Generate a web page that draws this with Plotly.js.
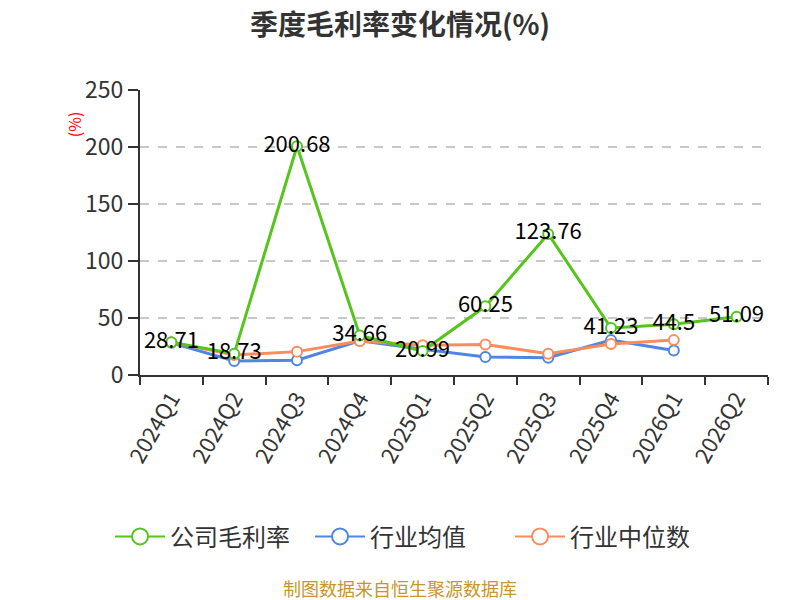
<!DOCTYPE html>
<html>
<head>
<meta charset="utf-8">
<script src="https://cdn.plot.ly/plotly-3.0.1.min.js"></script>
<style>
  body { margin: 0; background: #fff; }
  #chart { width: 800px; height: 600px; }
</style>
</head>
<body>
<div id="chart"></div>
<script>
// 季度毛利率
var quarters = ['2024Q1', '2024Q2', '2024Q3', '2024Q4', '2025Q1', '2025Q2', '2025Q3', '2025Q4', '2026Q1', '2026Q2'];
var companyValues = [28.71, 18.73, 200.68, 34.66, 20.99, 60.25, 123.76, 41.23, 44.5, 51.09];
var industryMean = [28.2, 12.3, 13.0, 30.0, 22.5, 15.8, 15.2, 30.6, 21.4, null];
var industryMedian = [28.6, 17.5, 20.5, 29.8, 26.0, 26.8, 18.6, 27.2, 30.6, null];
var seriesNames = ['公司毛利率', '行业均值', '行业中位数'];
var seriesColors = ['#55c51d', '#4f86e4', '#fc8c5c'];

var font = '"Noto Sans CJK SC", "Noto Sans", sans-serif';

function lineTrace(name, y, color, withText) {
  var t = {
    x: quarters,
    y: y,
    name: name,
    type: 'scatter',
    mode: withText ? 'lines+markers+text' : 'lines+markers',
    line: { color: color, width: 3 },
    marker: { size: 10, color: '#fff', line: { color: color, width: 2 } },
    hoverinfo: 'x+y',
    showlegend: false,
    cliponaxis: false
  };
  if (withText) {
    t.text = y.map(String);
    t.textposition = 'middle center';
    t.textfont = { family: font, size: 22, color: '#000' };
  }
  return t;
}

// legend entries only (bigger symbols, like the original)
function legendTrace(name, color) {
  return {
    x: [null],
    y: [null],
    name: name,
    type: 'scatter',
    mode: 'lines+markers',
    line: { color: color, width: 2 },
    marker: { size: 16, color: '#fff', line: { color: color, width: 2 } },
    hoverinfo: 'skip'
  };
}

var data = [
  lineTrace(seriesNames[1], industryMean, seriesColors[1], false),
  lineTrace(seriesNames[2], industryMedian, seriesColors[2], false),
  lineTrace(seriesNames[0], companyValues, seriesColors[0], true),
  legendTrace(seriesNames[0], seriesColors[0]),
  legendTrace(seriesNames[1], seriesColors[1]),
  legendTrace(seriesNames[2], seriesColors[2])
];

var layout = {
  width: 800,
  height: 600,
  paper_bgcolor: '#fff',
  plot_bgcolor: '#fff',
  font: { family: font, color: '#333' },
  title: {
    text: '<b>季度毛利率变化情况(%)</b>',
    x: 0.5,
    xanchor: 'center',
    y: 0.958,
    yanchor: 'middle',
    font: { family: font, size: 28, color: '#333' }
  },
  margin: { l: 140, r: 32, t: 90, b: 225 },
  xaxis: {
    type: 'category',
    range: [-0.5, 9.5],
    tickson: 'boundaries',
    ticks: 'outside',
    ticklen: 8,
    tickwidth: 2,
    tickcolor: '#333',
    showline: true,
    linecolor: '#333',
    linewidth: 2,
    showgrid: false,
    tickangle: -60,
    tickfont: { family: font, size: 22, color: '#333' }
  },
  yaxis: {
    range: [0, 250],
    dtick: 50,
    ticks: 'outside',
    ticklen: 10,
    tickwidth: 2,
    tickcolor: '#333',
    showline: true,
    linecolor: '#333',
    linewidth: 2,
    gridcolor: '#c8c8c8',
    griddash: 'dash',
    gridwidth: 1.5,
    zeroline: false,
    tickfont: { family: font, size: 23, color: '#333' }
  },
  showlegend: true,
  legend: {
    orientation: 'h',
    x: 0.43,
    xanchor: 'center',
    y: -0.568,
    yanchor: 'middle',
    traceorder: 'normal',
    font: { family: font, size: 24, color: '#333' },
    itemwidth: 50,
    entrywidth: 135
  },
  annotations: [
    {
      text: '(%)',
      xref: 'paper',
      yref: 'paper',
      x: -0.105,
      y: 0.88,
      xanchor: 'center',
      yanchor: 'middle',
      textangle: -90,
      showarrow: false,
      font: { family: font, size: 16, color: '#ff0000' }
    },
    {
      text: '制图数据来自恒生聚源数据库',
      xref: 'paper',
      yref: 'paper',
      x: 0.414,
      y: -0.748,
      xanchor: 'center',
      yanchor: 'middle',
      showarrow: false,
      font: { family: font, size: 18, color: '#c9952c' }
    }
  ]
};

var config = { responsive: false, displayModeBar: false };

Plotly.newPlot('chart', data, layout, config);
</script>
</body>
</html>
